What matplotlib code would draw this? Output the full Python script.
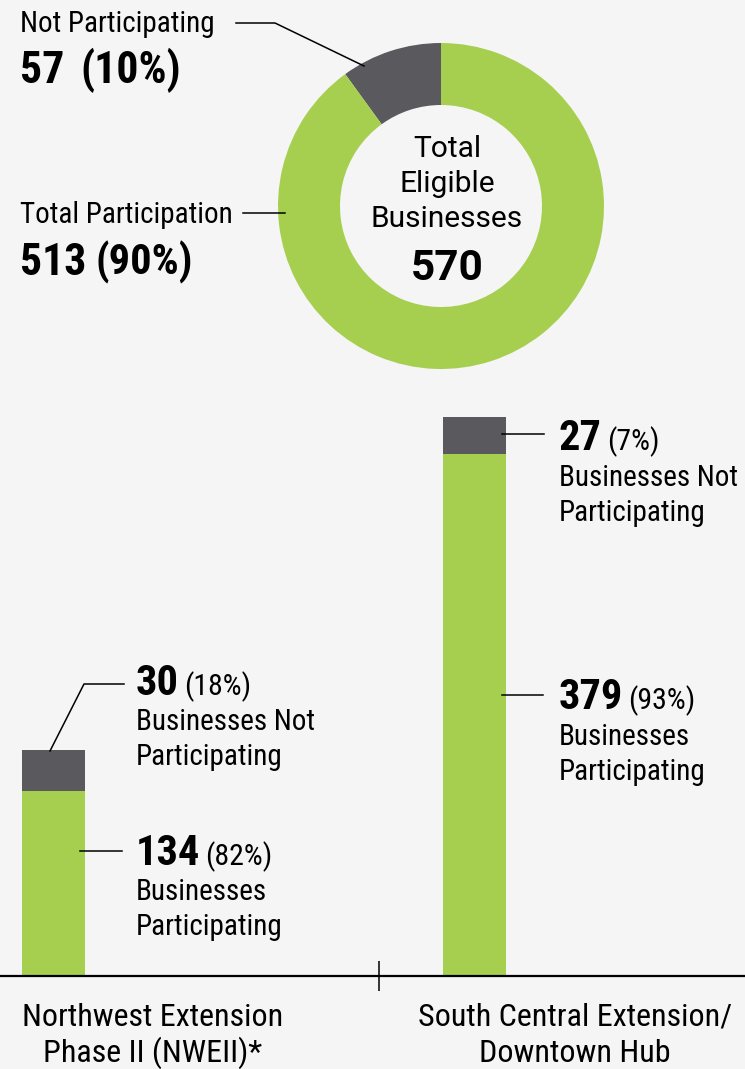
import matplotlib
matplotlib.use('Agg')
import matplotlib.pyplot as plt
from matplotlib import font_manager as fm

# ---- data ----
donut_labels = ['Not Participating', 'Total Participation']
donut_values = [57, 513]
donut_total = 570

projects = ['Northwest Extension\nPhase II (NWEII)*', 'South Central Extension/\nDowntown Hub']
participating = [134, 379]
not_participating = [30, 27]
pct_participating = [82, 93]
pct_not = [18, 7]

GREEN = '#a6cf50'
DARK = '#5a595e'
BG = '#f5f5f5'

W, H = 745, 1069

# font: condensed Roboto if available
try:
    fm.findfont('Roboto Condensed', fallback_to_default=False)
    COND = 'Roboto Condensed'
except Exception:
    COND = 'Roboto'
plt.rcParams['font.family'] = [COND, 'DejaVu Sans']

fig = plt.figure(figsize=(W / 100, H / 100), dpi=100, facecolor=BG)


def rect(x0, y0, w, h):
    # pixel box (top-left origin) -> figure fraction
    return [x0 / W, 1 - (y0 + h) / H, w / W, h / H]


# ---- donut ----
cx, cy, r_out, r_in = 441, 206, 163, 101
axd = fig.add_axes(rect(cx - r_out, cy - r_out, 2 * r_out, 2 * r_out))
axd.pie(donut_values, colors=[DARK, GREEN], startangle=90, counterclock=True,
        radius=1, wedgeprops=dict(width=(r_out - r_in) / r_out, linewidth=0))
axd.set_xlim(-1, 1)
axd.set_ylim(-1, 1)
axd.set_aspect('equal')
axd.axis('off')

# ---- bars ----
base_y = 976
px_per_unit = 1.377
ymax = 450
axb = fig.add_axes(rect(0, base_y - ymax * px_per_unit, W, ymax * px_per_unit))
axb.set_facecolor('none')
x = [0, 1]
bar_w = 63 / 421
axb.bar(x, participating, width=bar_w, color=GREEN, linewidth=0)
axb.bar(x, not_participating, bottom=participating, width=bar_w, color=DARK, linewidth=0)
axb.set_xlim(-53.5 / 421, (W - 53.5) / 421)
axb.set_ylim(0, ymax)
for s in ['top', 'right', 'left']:
    axb.spines[s].set_visible(False)
axb.spines['bottom'].set_linewidth(1.6)
axb.spines['bottom'].set_color('black')
axb.set_yticks([])
axb.set_xticks([(379 - 53.5) / 421])
axb.set_xticklabels([''])
axb.tick_params(axis='x', direction='inout', length=22, width=1.1, color='black')

# ---- overlay for labels and leader lines (pixel coords) ----
ov = fig.add_axes([0, 0, 1, 1])
ov.set_xlim(0, W)
ov.set_ylim(H, 0)
ov.axis('off')
ov.patch.set_visible(False)

LW = 1.1
REG = 21        # body labels
CAT = 23        # category labels under the axis
BIG = 30.5      # bold numbers
PAR = 21.5      # percentages in brackets

# donut labels
ov.text(20, 32, donut_labels[0], fontsize=REG, va='baseline')
ov.text(20, 83, str(donut_values[0]), fontsize=BIG + 1, fontweight='bold', va='baseline')
ov.text(80, 83, f'({round(donut_values[0] * 100 / donut_total)}%)',
        fontsize=BIG + 1, fontweight='bold', va='baseline')
ov.plot([236, 275, 364], [23, 23, 66], color='black', lw=LW)

ov.text(20, 223, donut_labels[1], fontsize=REG, va='baseline')
ov.text(20, 275, str(donut_values[1]), fontsize=BIG + 1, fontweight='bold', va='baseline')
ov.text(96, 275, f'({round(donut_values[1] * 100 / donut_total)}%)',
        fontsize=BIG, fontweight='bold', va='baseline')
ov.plot([243, 285], [213, 213], color='black', lw=LW)

# centre of donut
for yy, s in zip([157, 192, 227], ['Total', 'Eligible', 'Businesses']):
    ov.text(cx + 6, yy, s, fontsize=21.5, family=['Roboto', 'DejaVu Sans'],
            ha='center', va='baseline')
ov.text(cx + 6, 280, str(donut_total), fontsize=BIG, fontweight='bold',
        family=['Roboto', 'DejaVu Sans'], ha='center', va='baseline')


def two_part(xp, yp, bold, rest, gap=5):
    t = ov.text(xp, yp, bold, fontsize=BIG, fontweight='bold', va='baseline', ha='left')
    fig.canvas.draw()
    bb = t.get_window_extent()
    ov.text(xp + bb.width + gap, yp, rest, fontsize=PAR, va='baseline', ha='left')


# bar labels
two_part(136, 695, str(not_participating[0]), f'({pct_not[0]}%)')
ov.text(136, 730, 'Businesses Not', fontsize=REG, va='baseline')
ov.text(136, 765, 'Participating', fontsize=REG, va='baseline')
ov.plot([50, 84, 124], [751, 684, 684], color='black', lw=LW)

two_part(136, 865, str(participating[0]), f'({pct_participating[0]}%)')
ov.text(136, 900, 'Businesses', fontsize=REG, va='baseline')
ov.text(136, 935, 'Participating', fontsize=REG, va='baseline')
ov.plot([80, 122], [851, 851], color='black', lw=LW)

two_part(559, 450, str(not_participating[1]), f'({pct_not[1]}%)')
ov.text(559, 486, 'Businesses Not', fontsize=REG, va='baseline')
ov.text(559, 521, 'Participating', fontsize=REG, va='baseline')
ov.plot([502, 544], [434, 434], color='black', lw=LW)

two_part(559, 709, str(participating[1]), f'({pct_participating[1]}%)')
ov.text(559, 745, 'Businesses', fontsize=REG, va='baseline')
ov.text(559, 780, 'Participating', fontsize=REG, va='baseline')
ov.plot([502, 543], [695, 695], color='black', lw=LW)

# category labels
for xc, lab in zip([153, 575], projects):
    l1, l2 = lab.split('\n')
    ov.text(xc, 1026, l1, fontsize=CAT, ha='center', va='baseline')
    ov.text(xc, 1062, l2, fontsize=CAT, ha='center', va='baseline')

fig.savefig('out.png', dpi=100, facecolor=BG)
